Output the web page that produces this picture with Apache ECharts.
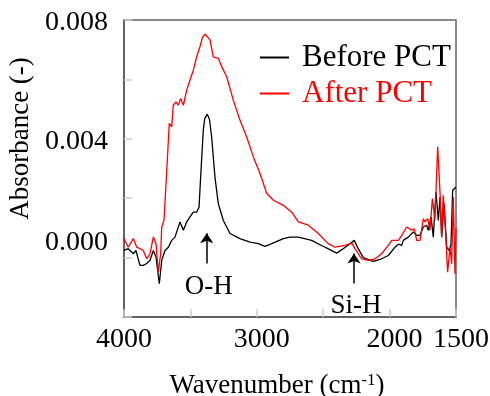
<!DOCTYPE html>
<html>
<head>
<meta charset="utf-8">
<script src="https://cdn.jsdelivr.net/npm/echarts@6/dist/echarts.min.js"></script>
<style>
  html, body { margin: 0; padding: 0; background: #fff; }
  #chart { width: 490px; height: 396px; }
</style>
</head>
<body>
<div id="chart"></div>
<script>
// wavenumber (cm-1) / absorbance
const beforeWave = [4000, 3968, 3930, 3910, 3880, 3855, 3829, 3804, 3779, 3759, 3734, 3716, 3691, 3666, 3641, 3616,
  3591, 3578, 3553, 3528, 3503, 3478, 3453, 3435, 3420, 3403, 3392, 3373, 3356, 3340, 3315, 3290, 3252, 3202,
  3127, 3051, 2989, 2938, 2888, 2800, 2750, 2687, 2587, 2487, 2398, 2323, 2266, 2236, 2198, 2123, 2060, 2010,
  1959, 1934, 1909, 1897, 1859, 1822, 1796, 1771, 1746, 1721, 1709, 1688, 1671, 1651, 1633, 1620, 1608, 1590,
  1570, 1553, 1538, 1525, 1513, 1500];
const beforeAbs = [0.00024, 0.00030, 0.00013, 0.00024, -0.00026, -0.00026, -0.00020, -0.00009, 0.00024, 0.00002,
  -0.00088, -0.00009, 0.00024, 0.00035, 0.00058, 0.00069, 0.00103, 0.00120, 0.00092, 0.00120, 0.00137, 0.00153,
  0.00153, 0.00170, 0.00294, 0.00429, 0.00468, 0.00483, 0.00465, 0.00406, 0.00271, 0.00182, 0.00125, 0.00081,
  0.00064, 0.00052, 0.00047, 0.00038, 0.00047, 0.00064, 0.00069, 0.00069, 0.00058, 0.00035, 0.00015, 0.00038,
  0.00058, 0.00030, 0.00000, -0.00013, -0.00004, 0.00007, 0.00035, 0.00045, 0.00041, 0.00058, 0.00069, 0.00086,
  0.00075, 0.00075, 0.00103, 0.00109, 0.00092, 0.00137, 0.00069, 0.00221, 0.00125, 0.00204, 0.00069, 0.00182,
  0.00035, 0.00024, 0.00041, 0.00227, 0.00232, 0.00238];

const afterWave = [4000, 3968, 3930, 3904, 3880, 3855, 3829, 3804, 3779, 3759, 3742, 3724, 3716, 3699, 3678, 3659,
  3641, 3629, 3608, 3591, 3573, 3553, 3528, 3503, 3478, 3453, 3428, 3407, 3390, 3377, 3352, 3328, 3290, 3264,
  3227, 3177, 3127, 3076, 3026, 2976, 2925, 2875, 2800, 2737, 2687, 2612, 2537, 2462, 2411, 2336, 2285, 2261,
  2210, 2160, 2110, 2060, 2010, 1984, 1934, 1909, 1871, 1834, 1814, 1796, 1771, 1746, 1733, 1713, 1696, 1678,
  1659, 1638, 1620, 1608, 1596, 1578, 1563, 1545, 1533, 1520, 1508, 1500];
const afterAbs = [0.00064, 0.00035, 0.00064, 0.00035, 0.00030, 0.00024, -0.00004, 0.00013, 0.00069, 0.00047,
  -0.00049, 0.00013, 0.00103, 0.00125, 0.00294, 0.00452, 0.00440, 0.00513, 0.00524, 0.00513, 0.00536, 0.00513,
  0.00564, 0.00598, 0.00631, 0.00676, 0.00710, 0.00744, 0.00752, 0.00749, 0.00733, 0.00676, 0.00671, 0.00643,
  0.00609, 0.00530, 0.00463, 0.00406, 0.00339, 0.00283, 0.00216, 0.00193, 0.00176, 0.00153, 0.00120, 0.00109,
  0.00081, 0.00047, 0.00035, 0.00041, 0.00049, 0.00030, -0.00004, -0.00009, -0.00004, 0.00013, 0.00041, 0.00058,
  0.00058, 0.00075, 0.00103, 0.00092, 0.00097, 0.00058, 0.00058, 0.00131, 0.00120, 0.00131, 0.00092, 0.00199,
  0.00125, 0.00373, 0.00216, 0.00069, 0.00210, 0.00081, -0.00049, 0.00035, -0.00021, 0.00204, -0.00054, 0.00100];

const xTickLabels = ["4000", "3000", "2000", "1500"];
const yTickLabels = ["0.008", "0.004", "0.000"];

// peak annotations: label, wavenumber, arrow tail, arrow tip, text position
const peakNames = ["O-H", "Si-H"];
const peakWave = [3377, 2268];
const arrowTail = [-0.0002, -0.00087];
const arrowTip = [0.00082, 0.00014];
const peakTextAbs = [-0.0010, -0.00161];

const FONT = "'Liberation Serif', 'Times New Roman', serif";

const chart = echarts.init(document.getElementById("chart"), null, { renderer: "canvas" });

const pairs = (xs, ys) => xs.map((x, i) => [x, ys[i]]);

chart.setOption({
  animation: false,
  backgroundColor: "#fff",
  grid: {
    left: 124, right: 34, top: 20, bottom: 79,
    outerBoundsMode: "none",
    containLabel: false,
    show: true, borderColor: "#666", borderWidth: 1.5, backgroundColor: "transparent",
  },
  legend: {
    orient: "vertical",
    left: 255,
    top: 37,
    itemWidth: 29,
    itemHeight: 2,
    itemGap: 5,
    icon: "rect",
    selectedMode: false,
    textStyle: { fontFamily: FONT, fontSize: 31, padding: [0, 0, 0, 8] },
    data: [
      { name: "Before PCT", textStyle: { color: "#000" } },
      { name: "After PCT", textStyle: { color: "#ff0000" } },
    ],
  },
  xAxis: {
    type: "value",
    inverse: true,
    min: 1500,
    max: 4000,
    interval: 500,
    name: "Wavenumber (cm{sup|-1})",
    nameLocation: "middle",
    nameGap: 55,
    nameTextStyle: {
      fontFamily: FONT, fontSize: 27, color: "#000", padding: [0, 26, 0, 0],
      rich: { sup: { fontFamily: FONT, fontSize: 17, color: "#000", verticalAlign: "top", lineHeight: 16 } },
    },
    axisLine: { onZero: false, lineStyle: { color: "#555", width: 1.5 } },
    axisTick: { inside: true, length: 8, lineStyle: { color: "#ccc", width: 1.5 } },
    splitLine: { show: false },
    axisLabel: {
      margin: 9,
      fontFamily: FONT, fontSize: 28, color: "#000",
      formatter: (v) => {
        const s = String(v);
        if (!xTickLabels.includes(s)) return "";
        return s === "4000" ? s : `{r|${s}}`;
      },
      rich: { r: { fontFamily: FONT, fontSize: 28, color: "#000", padding: [0, 0, 0, 10] } },
    },
  },
  yAxis: {
    type: "value",
    min: -0.002,
    max: 0.008,
    interval: 0.002,
    name: "Absorbance (-)",
    nameLocation: "middle",
    nameGap: 89,
    nameTextStyle: { fontFamily: FONT, fontSize: 27, color: "#000", padding: [0, 0, 0, 60] },
    axisLine: { show: true, onZero: false, lineStyle: { color: "#555", width: 1.5 } },
    axisTick: { show: true, inside: true, length: 8, lineStyle: { color: "#ccc", width: 1.5 } },
    splitLine: { show: false },
    axisLabel: {
      margin: 16,
      fontFamily: FONT, fontSize: 28, color: "#000",
      formatter: (v) => {
        const s = Math.abs(v) < 1e-9 ? "0.000" : v.toFixed(3);
        if (!yTickLabels.includes(s)) return "";
        return s === "0.000" ? `{z|${s}}` : `{d|${s}}`;
      },
      rich: {
        z: { fontFamily: FONT, fontSize: 28, color: "#000", padding: [0, 0, 30, 0] },
        d: { fontFamily: FONT, fontSize: 28, color: "#000", padding: [5, 0, 0, 0] },
      },
    },
  },
  series: [
    {
      name: "Before PCT",
      type: "line",
      data: pairs(beforeWave, beforeAbs),
      symbol: "none",
      lineStyle: { color: "#000", width: 1.3 },
      itemStyle: { color: "#000" },
      markLine: {
        silent: true,
        symbol: ["none", "arrow"],
        symbolSize: 10,
        label: { show: false },
        lineStyle: { color: "#000", width: 1.5, type: "solid" },
        data: peakNames.map((_, i) => [
          { coord: [peakWave[i], arrowTail[i]] },
          { coord: [peakWave[i], arrowTip[i]] },
        ]),
      },
      markPoint: {
        silent: true,
        symbol: "circle",
        symbolSize: 0,
        label: {
          show: true, position: "inside", formatter: "{b}",
          fontFamily: FONT, fontSize: 27, color: "#000",
        },
        data: peakNames.map((n, i) => ({ name: n, coord: [peakWave[i] - 15, peakTextAbs[i]] })),
      },
    },
    {
      name: "After PCT",
      type: "line",
      data: pairs(afterWave, afterAbs),
      symbol: "none",
      lineStyle: { color: "#ff0000", width: 1.3 },
      itemStyle: { color: "#ff0000" },
    },
  ],
});
</script>
</body>
</html>
